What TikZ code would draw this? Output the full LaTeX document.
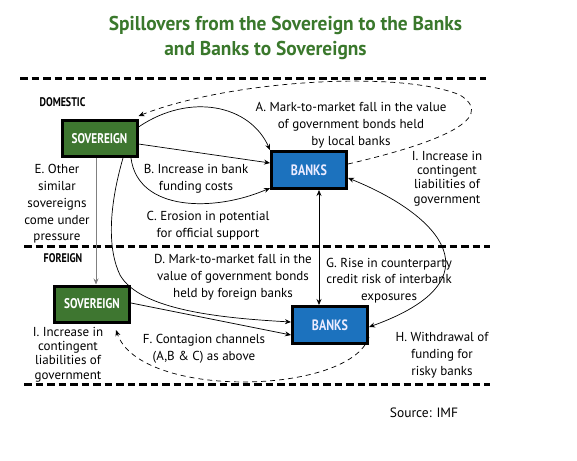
\documentclass[tikz,border=0pt]{standalone}
\usepackage{fontspec}
\setmainfont{PT Sans}
\newfontfamily\condbf[FakeStretch=0.80]{PT Sans}
\newfontfamily\titlebf[FakeStretch=0.97]{PT Sans}
\usetikzlibrary{arrows.meta}
\definecolor{titlegreen}{RGB}{58,120,44}
\definecolor{sovgreen}{RGB}{62,118,48}
\definecolor{bankblue}{RGB}{28,114,190}
\tikzset{
  sov/.style={draw=black, line width=3pt, fill=sovgreen, text=white,
    font=\condbf\bfseries\fontsize{14}{16}\selectfont, minimum width=75pt, minimum height=36pt, inner sep=0pt},
  bank/.style={draw=black, line width=3pt, fill=bankblue, text=white!92!blue,
    font=\condbf\bfseries\fontsize{15}{16}\selectfont, minimum width=75pt, minimum height=37pt, inner sep=0pt},
  lbl/.style={align=center, font=\fontsize{13}{16.8}\selectfont, inner sep=0pt},
  lbls/.style={align=center, font=\fontsize{13}{14.3}\selectfont, inner sep=0pt},
  region/.style={font=\condbf\bfseries\fontsize{12.5}{14}\selectfont, inner sep=0pt},
  sep/.style={line width=3pt, dash pattern=on 7.5pt off 4pt},
  tip/.style={line width=0.7pt, {Stealth[length=6pt,width=5pt]}-{Stealth[length=6pt,width=5pt]}},
  arr/.style={line width=0.7pt, -{Stealth[length=6pt,width=5pt]}},
  darr/.style={line width=0.7pt, dash pattern=on 5pt off 4pt, -{Stealth[length=6pt,width=5pt]}},
}
\begin{document}
\begin{tikzpicture}[x=1pt,y=-1pt]
\useasboundingbox (0,0) rectangle (577,460);
% title
\node[font=\titlebf\bfseries\fontsize{20}{24}\selectfont, text=titlegreen, inner sep=0pt] (t1) at (285.5,25) {Spillovers from the Sovereign to the Banks};
\node[font=\titlebf\bfseries\fontsize{20}{24}\selectfont, text=titlegreen, inner sep=0pt] (t2) at (265.5,50) {and Banks to Sovereigns};
% separators
\coordinate (s1a) at (20,78); \coordinate (s1b) at (486,78);
\coordinate (s2a) at (24,246); \coordinate (s2b) at (490,246);
\coordinate (s3a) at (24,384); \coordinate (s3b) at (490,384);
\draw[sep] (s1a) -- (s1b);
\draw[sep] (s2a) -- (s2b);
\draw[sep] (s3a) -- (s3b);
% region labels
\node[region] (dom) at (62.5,102) {DOMESTIC};
\node[region] (for) at (63,258) {FOREIGN};
% boxes
\node[sov] (ds) at (99.5,138.5) {SOVEREIGN};
\node[bank] (db) at (309,170) {BANKS};
\node[sov] (fs) at (92,304) {SOVEREIGN};
\node[bank] (fb) at (330,325) {BANKS};
% labels
\node[lbl] (la) at (351,125) {A. Mark-to-market fall in the value\\of government bonds held\\by local banks};
\node[lbls] (li1) at (447,178.5) {I. Increase in\\contingent\\liabilities of\\government};
\node[lbl] (lb) at (196,178.5) {B. Increase in bank\\funding costs};
\node[lbl] (lc) at (208,225.5) {C. Erosion in potential\\for official support};
\node[lbl] (le) at (57,204) {E. Other\\similar\\sovereigns\\come under\\pressure};
\node[lbl] (ld) at (233,277) {D. Mark-to-market fall in the\\value of government bonds\\held\ by foreign banks};
\node[lbl] (lg) at (389,280.5) {G. Rise in counterparty\\credit risk of interbank\\exposures};
\node[lbl] (lh) at (442,355) {H. Withdrawal of\\funding for\\risky banks};
\node[lbl] (lf) at (204,348.5) {F. Contagion channels\\(A,B \& C) as above};
\node[lbls] (li2) at (68,354.5) {I. Increase in\\contingent\\liabilities of\\government};
\node[font=\fontsize{13.5}{14}\selectfont, inner sep=0pt] (src) at (424,413) {Source: IMF};
% connectors
\draw[arr] (ds.east |- 0,144) -- (db.west |- 0,163);
\draw[arr] (ds.east |- 0,127) .. controls (190,92) and (250,105) .. (db.north west |- 0,150);
\draw[arr] (131,158) .. controls (138,212) and (215,212) .. (db.west |- 0,188);
\draw[arr] (123,158) .. controls (108,210) and (108,250) .. (120,275) .. controls (140,310) and (220,318) .. (fb.west |- 0,322);
\draw[arr, draw=gray] (96,158) -- (fs.north -| 96,0);
\draw[arr] (fs.east |- 0,303) -- (fb.west |- 0,335);
\draw[tip] (db.south -| 319,0) -- (fb.north -| 319,0);
\draw[tip] (db.east |- 0,178) .. controls (440,215) and (500,280) .. (fb.east |- 0,327);
\draw[darr] (db.east |- 0,164) .. controls (430,145) and (500,120) .. (460,95) .. controls (400,70) and (230,80) .. (ds.east |- 0,116);
\draw[darr] (fb.east |- 0,337) .. controls (350,395) and (140,400) .. (116,330);
\end{tikzpicture}
\end{document}
